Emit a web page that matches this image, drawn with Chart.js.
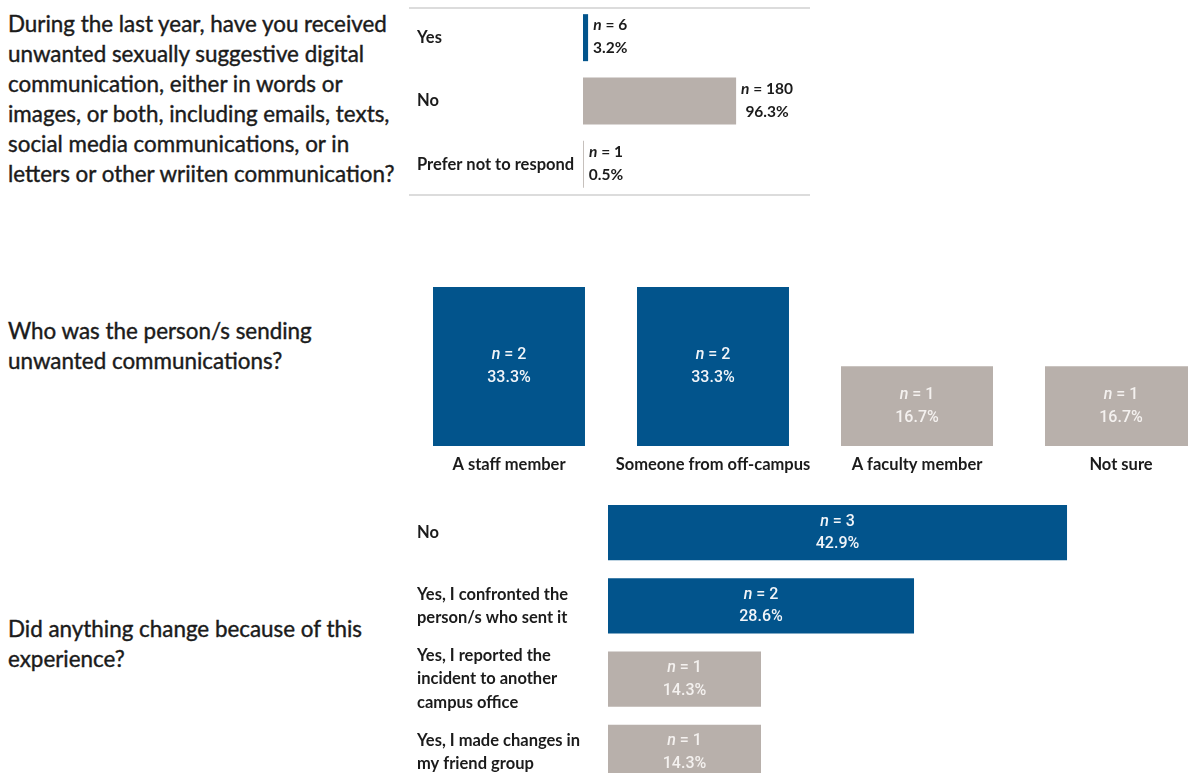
<!DOCTYPE html>
<html>
<head>
<meta charset="utf-8">
<script src="https://cdn.jsdelivr.net/npm/chart.js@4.4.1/dist/chart.umd.min.js"></script>
<style>
  html, body { margin: 0; padding: 0; background: #ffffff; overflow: hidden; width: 1188px; height: 773px; }
  .question { position: absolute; left: 8px; font-family: Lato, "Open Sans", sans-serif; font-size: 22.4px; line-height: 30px; color: #1b1b1b; font-weight: 400; -webkit-text-stroke: 0.4px #1b1b1b; white-space: nowrap; }
  .panel { position: absolute; }
</style>
</head>
<body>

<div class="question" style="top:9px;">During the last year, have you received<br>unwanted sexually suggestive digital<br>communication, either in words or<br>images, or both, including emails, texts,<br>social media communications, or in<br>letters or other wriiten communication?</div>
<div class="question" style="top:316px;">Who was the person/s sending<br>unwanted communications?</div>
<div class="question" style="top:614px;">Did anything change because of this<br>experience?</div>

<div class="panel" style="left:409px; top:0px; width:401px; height:205px;"><canvas id="receivedChart"></canvas></div>
<div class="panel" style="left:380px; top:240px; width:850px; height:240px;"><canvas id="senderChart"></canvas></div>
<div class="panel" style="left:409px; top:490px; width:779px; height:300px;"><canvas id="changeChart"></canvas></div>

<script>
// Survey responses
const receivedCategories = ['Yes', 'No', 'Prefer not to respond'];
const receivedCounts = [6, 180, 1];
const receivedPercents = [3.2, 96.3, 0.5];

const senderCategories = ['A staff member', 'Someone from off-campus', 'A faculty member', 'Not sure'];
const senderCounts = [2, 2, 1, 1];
const senderPercents = [33.3, 33.3, 16.7, 16.7];

const changeCategories = [
  'No',
  ['Yes, I confronted the', 'person/s who sent it'],
  ['Yes, I reported the', 'incident to another', 'campus office'],
  ['Yes, I made changes in', 'my friend group']
];
const changeCounts = [3, 2, 1, 1];
const changePercents = [42.9, 28.6, 14.3, 14.3];

const BLUE = '#02548c';
const GREY = '#b8b0ab';
const INK = '#1b1b1b';
const LABEL_FONT = 'Lato, "Open Sans", sans-serif';
const BAR_FONT = 'Roboto, "DejaVu Sans", sans-serif';

Chart.defaults.animation = false;
Chart.defaults.responsive = true;
Chart.defaults.maintainAspectRatio = false;
Chart.defaults.plugins.legend.display = false;
Chart.defaults.plugins.tooltip.enabled = false;

// "n = 6" with an italic n, centred on cx
function countWidth(ctx, count, size, family, weight) {
  ctx.font = `italic ${weight} ${size}px ${family}`;
  const w1 = ctx.measureText('n').width;
  ctx.font = `${weight} ${size}px ${family}`;
  return w1 + ctx.measureText(' = ' + count).width;
}
function drawCount(ctx, cx, cy, count, size, family, weight, color) {
  ctx.font = `italic ${weight} ${size}px ${family}`;
  const w1 = ctx.measureText('n').width;
  ctx.font = `${weight} ${size}px ${family}`;
  const rest = ' = ' + count;
  const w2 = ctx.measureText(rest).width;
  const start = cx - (w1 + w2) / 2;
  ctx.textAlign = 'left';
  ctx.textBaseline = 'middle';
  ctx.fillStyle = color;
  ctx.font = `italic ${weight} ${size}px ${family}`;
  ctx.fillText('n', start, cy);
  ctx.font = `${weight} ${size}px ${family}`;
  ctx.fillText(rest, start + w1, cy);
}
function drawPct(ctx, cx, cy, pct, size, family, weight, color) {
  ctx.font = `${weight} ${size}px ${family}`;
  ctx.textAlign = 'center';
  ctx.textBaseline = 'middle';
  ctx.fillStyle = color;
  ctx.fillText(pct.toFixed(1) + '%', cx, cy);
}

// Labels beside the bar ends (first panel)
const besideLabels = {
  id: 'besideLabels',
  afterDatasetsDraw(chart) {
    const ctx = chart.ctx;
    const meta = chart.getDatasetMeta(0);
    ctx.save();
    meta.data.forEach((bar, i) => {
      const size = 15.5;
      ctx.font = `700 ${size}px ${LABEL_FONT}`;
      const pw = ctx.measureText(receivedPercents[i].toFixed(1) + '%').width;
      const nw = countWidth(ctx, receivedCounts[i], size, LABEL_FONT, 700);
      const block = Math.max(pw, nw);
      const cx = bar.x + 5 + block / 2;
      drawCount(ctx, cx, bar.y - 12.5, receivedCounts[i], size, LABEL_FONT, 700, INK);
      drawPct(ctx, cx, bar.y + 10.5, receivedPercents[i], size, LABEL_FONT, 700, INK);
    });
    ctx.restore();
  }
};

// Labels centred inside the bars
function insideLabels(counts, percents, horizontal) {
  return {
    id: 'insideLabels',
    afterDatasetsDraw(chart) {
      const ctx = chart.ctx;
      const meta = chart.getDatasetMeta(0);
      const colors = chart.data.datasets[0].backgroundColor;
      ctx.save();
      meta.data.forEach((bar, i) => {
        const cx = horizontal ? (bar.x + bar.base) / 2 : bar.x;
        const cy = horizontal ? bar.y : (bar.y + bar.base) / 2;
        const color = colors[i] === BLUE ? '#f2f5f9' : '#f4f1ef';
        drawCount(ctx, cx, cy - 11, counts[i], 16, BAR_FONT, 500, color);
        drawPct(ctx, cx, cy + 11.5, percents[i], 16, BAR_FONT, 500, color);
      });
      ctx.restore();
    }
  };
}

// Grey rules above and below the first panel
const panelRules = {
  id: 'panelRules',
  beforeDraw(chart) {
    const ctx = chart.ctx;
    ctx.save();
    ctx.strokeStyle = '#dcdcdc';
    ctx.lineWidth = 2;
    [8, 195].forEach(y => {
      ctx.beginPath();
      ctx.moveTo(0, y);
      ctx.lineTo(chart.width, y);
      ctx.stroke();
    });
    ctx.restore();
  }
};

// Category axes keep a fixed size and do not push the plot area around
function fixedSide(width) {
  return function (scale) {
    scale.width = width;
    scale.paddingTop = 0;
    scale.paddingBottom = 0;
  };
}

new Chart(document.getElementById('receivedChart'), {
  type: 'bar',
  data: {
    labels: receivedCategories,
    datasets: [{
      data: receivedPercents,
      backgroundColor: [BLUE, GREY, GREY],
      borderWidth: 0,
      barPercentage: 0.742,
      categoryPercentage: 1
    }]
  },
  options: {
    indexAxis: 'y',
    layout: { padding: { left: 8, right: 68, top: 6, bottom: 9 } },
    scales: {
      x: { display: false, min: 0, max: 100 },
      y: {
        grid: { display: false },
        border: { display: false },
        afterFit: fixedSide(166),
        ticks: {
          crossAlign: 'far',
          color: INK,
          font: { family: LABEL_FONT, size: 16.5, weight: '700' }
        }
      }
    }
  },
  plugins: [panelRules, besideLabels]
});

new Chart(document.getElementById('senderChart'), {
  type: 'bar',
  data: {
    labels: senderCategories,
    datasets: [{
      data: senderPercents,
      backgroundColor: [BLUE, BLUE, GREY, GREY],
      borderWidth: 0,
      barPercentage: 0.745,
      categoryPercentage: 1
    }]
  },
  options: {
    layout: { padding: { left: 27, right: 7, top: 15, bottom: 0 } },
    scales: {
      y: { display: false, min: 0, max: 40 },
      x: {
        grid: { display: false },
        border: { display: false },
        afterFit(scale) {
          scale.height = 34;
          scale.paddingLeft = 0;
          scale.paddingRight = 0;
        },
        ticks: {
          padding: 1,
          maxRotation: 0,
          autoSkip: false,
          color: INK,
          font: { family: LABEL_FONT, size: 16.5, weight: '700' }
        }
      }
    }
  },
  plugins: [insideLabels(senderCounts, senderPercents, false)]
});

new Chart(document.getElementById('changeChart'), {
  type: 'bar',
  data: {
    labels: changeCategories,
    datasets: [{
      data: changePercents,
      backgroundColor: [BLUE, BLUE, GREY, GREY],
      borderWidth: 0,
      barPercentage: 0.751,
      categoryPercentage: 1
    }]
  },
  options: {
    indexAxis: 'y',
    layout: { padding: { left: 8, right: 45, top: 6, bottom: 1 } },
    scales: {
      x: { display: false, min: 0, max: 50 },
      y: {
        grid: { display: false },
        border: { display: false },
        afterFit: fixedSide(191),
        ticks: {
          crossAlign: 'far',
          color: INK,
          font: { family: LABEL_FONT, size: 16.5, weight: '700', lineHeight: 1.4 }
        }
      }
    }
  },
  plugins: [insideLabels(changeCounts, changePercents, true)]
});
</script>
</body>
</html>
